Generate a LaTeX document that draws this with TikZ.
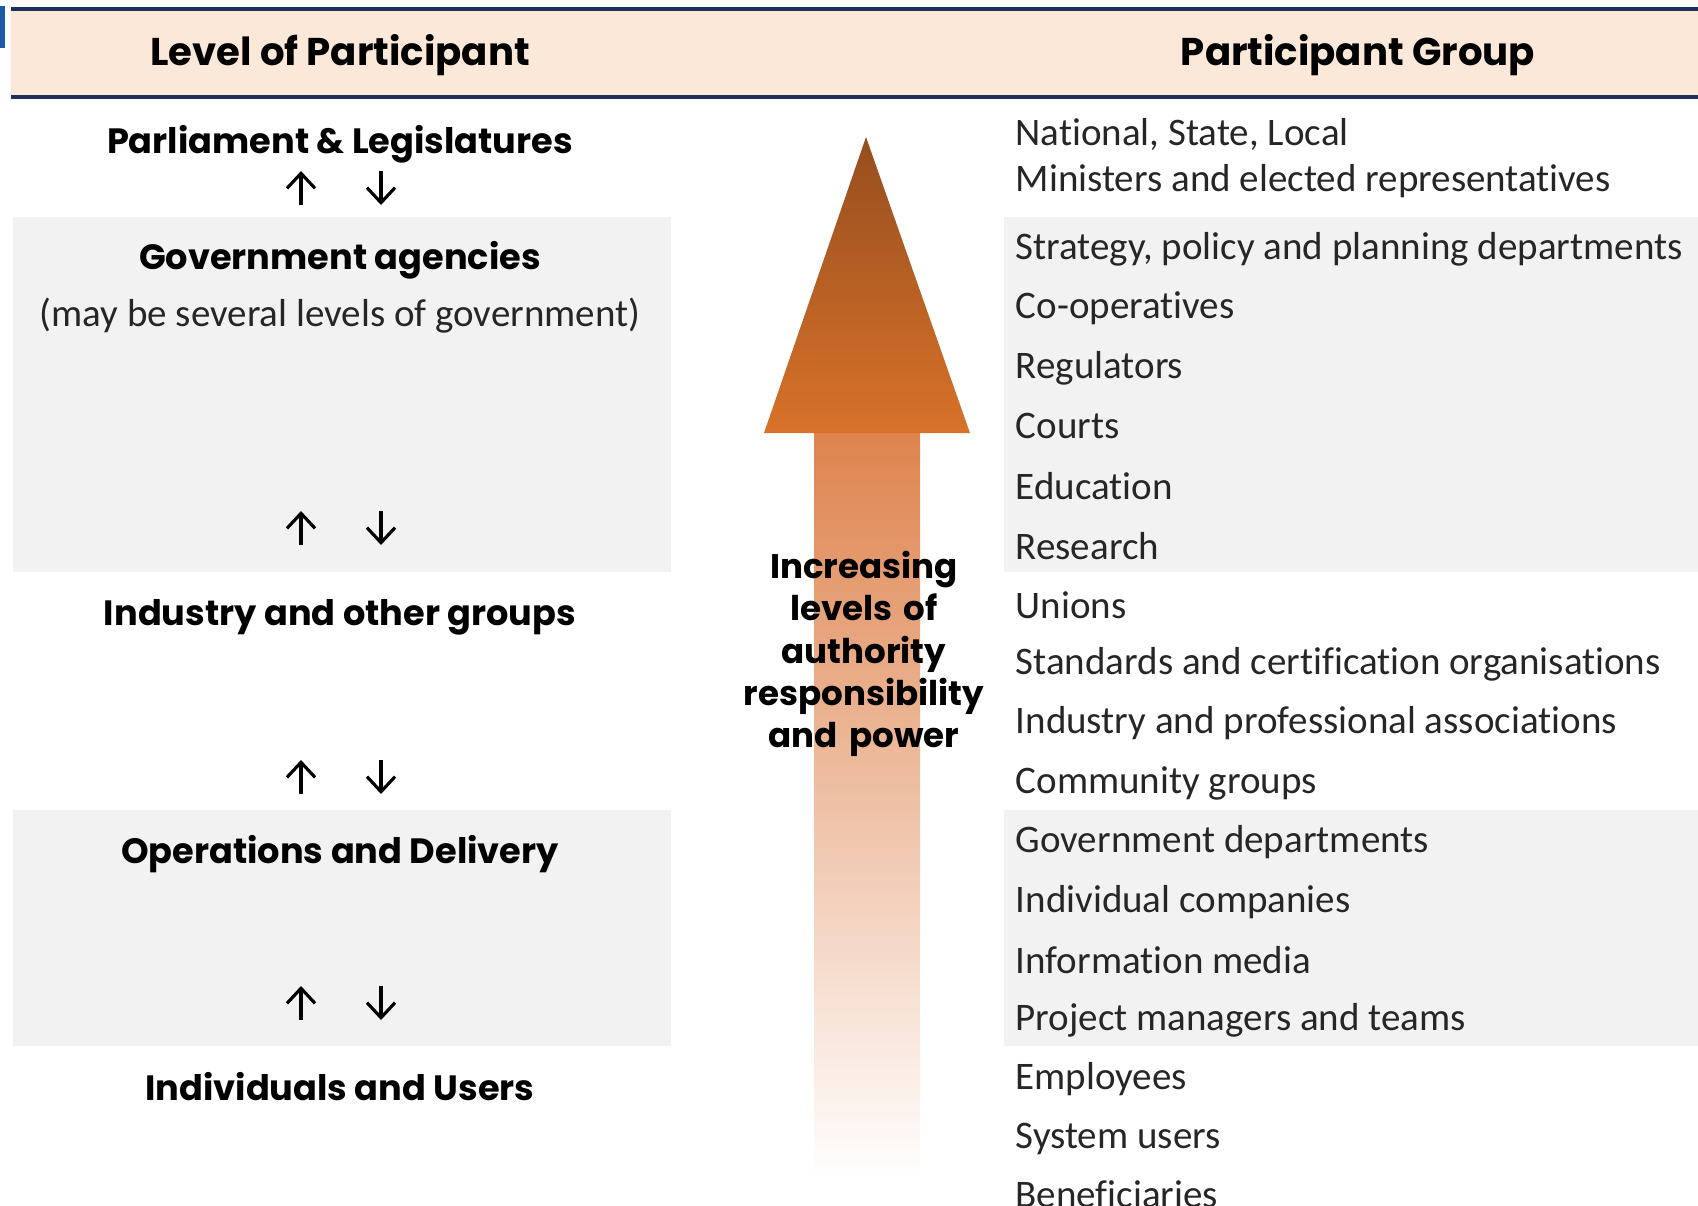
\documentclass[tikz,border=0pt]{standalone}
\usepackage{fontspec}
\setmainfont{Carlito}[Ligatures=NoCommon]
\newfontfamily\headfont{Poppins}
\usepackage{xcolor}
\usepackage{tikz}
\usetikzlibrary{arrows.meta}

\definecolor{headfill}{RGB}{251,232,216}
\definecolor{headline}{RGB}{32,48,92}
\definecolor{boxfill}{RGB}{242,242,242}
\definecolor{tipcol}{RGB}{150,78,30}
\definecolor{basecol}{RGB}{216,114,42}
\definecolor{shaftcol}{RGB}{222,132,78}
\definecolor{markblue}{RGB}{30,90,170}
\definecolor{bodytext}{RGB}{38,38,38}

\begin{document}
\begin{tikzpicture}[x=0.1mm, y=-0.1mm,
		level/.style={font=\headfont\bfseries\fontsize{10}{12}\selectfont, inner sep=0pt},
		title/.style={font=\headfont\bfseries\fontsize{11}{13}\selectfont, inner sep=0pt},
		group/.style={anchor=west, font=\fontsize{11.1}{13}\selectfont, text=bodytext, inner sep=0pt},
		updown/.style={line width=0.9pt, -{Straight Barb[length=1.5mm, width=2.8mm]}}]
		\useasboundingbox (0,0) rectangle (1698,1205);
		% 表头
		\fill[markblue] (0,6) rectangle (5,48);
		\fill[headfill] (11,9) rectangle (1698,97);
		\draw[headline, line width=1pt] (11,9) -- (1698,9);
		\draw[headline, line width=1pt] (11,97) -- (1698,97);
		\node[title] (hlevel) at (340,55) {Level of Participant};
		\node[title] (hgroup) at (1358,55) {Participant Group};
		% 灰色底块
		\fill[boxfill] (13,217) rectangle (671,572);
		\fill[boxfill] (1004,217) rectangle (1698,572);
		\fill[boxfill] (13,810) rectangle (671,1046);
		\fill[boxfill] (1004,810) rectangle (1698,1046);
		% 中间箭头
		\coordinate (tip) at (866,137);
		\coordinate (HL) at (764,433);
		\coordinate (HR) at (970,433);
		\shade[top color=shaftcol, middle color=shaftcol!50, bottom color=white] (814,433) rectangle (920,1180);
		\shade[top color=tipcol, bottom color=basecol] (tip) -- (HR) -- (HL) -- cycle;
		\node[level, align=center, text width=260, font=\headfont\bfseries\fontsize{9.7}{12}\selectfont] (power) at (864,654)
			{Increasing\\levels of\\authority\\responsibility\\and power};
		% 参与层级
		\node[level] (parl) at (340,144) {Parliament \& Legislatures};
		\node[level] (gov) at (340,260) {Government agencies};
		\node[font=\fontsize{11.1}{13}\selectfont, text=bodytext, inner sep=0pt] (govnote) at (340,316)
			{(may be several levels of government)};
		\node[level] (ind) at (340,617) {Industry and other groups};
		\node[level] (ops) at (340,854) {Operations and Delivery};
		\node[level] (users) at (340,1087) {Individuals and Users};
		% 上下箭头
		\foreach \n/\y in {1/188, 2/528, 3/777, 4/1003} {
			\coordinate (up\n) at (301,\y+17);
			\coordinate (upend\n) at (301,\y-17);
			\coordinate (dn\n) at (381,\y-17);
			\coordinate (dnend\n) at (381,\y+17);
			\draw[updown] (up\n) -- (upend\n);
			\draw[updown] (dn\n) -- (dnend\n);
		}
		% 参与群体
		\node[group] (g1) at (1015,134) {National, State, Local};
		\node[group] (g2) at (1015,181) {Ministers and elected representatives};
		\node[group] (g3) at (1015,249) {Strategy, policy and planning departments};
		\node[group] (g4) at (1015,308) {Co-operatives};
		\node[group] (g5) at (1015,368) {Regulators};
		\node[group] (g6) at (1015,426) {Courts};
		\node[group] (g7) at (1015,486) {Education};
		\node[group] (g8) at (1015,546) {Research};
		\node[group] (g9) at (1015,605) {Unions};
		\node[group] (g10) at (1015,664) {Standards and certification organisations};
		\node[group] (g11) at (1015,723) {Industry and professional associations};
		\node[group] (g12) at (1015,783) {Community groups};
		\node[group] (g13) at (1015,842) {Government departments};
		\node[group] (g14) at (1015,902) {Individual companies};
		\node[group] (g15) at (1015,960) {Information media};
		\node[group] (g16) at (1015,1020) {Project managers and teams};
		\node[group] (g17) at (1015,1079) {Employees};
		\node[group] (g18) at (1015,1139) {System users};
		\node[group] (g19) at (1015,1194) {Beneficiaries};
	\end{tikzpicture}
\end{document}
